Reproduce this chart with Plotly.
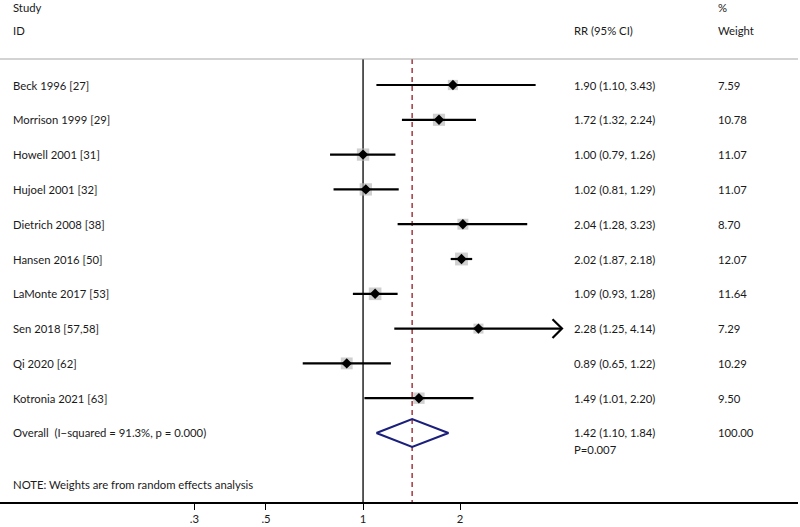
import plotly.graph_objects as go
import numpy as np

studies = ["Beck 1996 [27]", "Morrison 1999 [29]", "Howell 2001 [31]", "Hujoel 2001 [32]",
           "Dietrich 2008 [38]", "Hansen 2016 [50]", "LaMonte 2017 [53]", "Sen 2018 [57,58]",
           "Qi 2020 [62]", "Kotronia 2021 [63]"]
rr = [1.90, 1.72, 1.00, 1.02, 2.04, 2.02, 1.09, 2.28, 0.89, 1.49]
ci_lo = [1.10, 1.32, 0.79, 0.81, 1.28, 1.87, 0.93, 1.25, 0.65, 1.01]
ci_hi = [3.43, 2.24, 1.26, 1.29, 3.23, 2.18, 1.28, 4.14, 1.22, 2.20]
weights = [7.59, 10.78, 11.07, 11.07, 8.70, 12.07, 11.64, 7.29, 10.29, 9.50]

overall_rr = 1.42
overall_lo = 1.10
overall_hi = 1.84
overall_label = "Overall  (I\u2212squared = 91.3%, p = 0.000)"
overall_p = "P=0.007"
note = "NOTE: Weights are from random effects analysis"

tick_vals = [0.3, 0.5, 1, 2]
tick_text = [".3", ".5", "1", "2"]
x_max = 4.0  # CIs beyond this get an arrow

FONT = "Lato"
FS = 11.3
TXT = "#1a1a1a"

n = len(studies)
rows = list(range(n))
ov_row = n
top_row = -0.747      # header rule
bottom_row = 11.983

fig = go.Figure()

# null line and overall effect line
fig.add_trace(go.Scatter(x=[1, 1], y=[top_row, bottom_row], mode="lines",
                         line=dict(color="black", width=1.3), hoverinfo="skip"))
fig.add_trace(go.Scatter(x=[overall_rr, overall_rr], y=[top_row, bottom_row], mode="lines",
                         line=dict(color="#a3393e", width=1.5, dash="5px,4px"), hoverinfo="skip"))

# weight boxes
fig.add_trace(go.Scatter(x=rr, y=rows, mode="markers",
                         marker=dict(symbol="square", color="#bcbcbc",
                                     size=[3.7 * np.sqrt(w) for w in weights], line=dict(width=0)),
                         hoverinfo="skip"))

# confidence intervals
for i in rows:
    fig.add_trace(go.Scatter(x=[ci_lo[i], ci_hi[i]], y=[i, i], mode="lines",
                             line=dict(color="black", width=2.2), hoverinfo="skip"))
    if ci_hi[i] > x_max:
        tip = ci_hi[i]
        back = tip / 1.07
        fig.add_trace(go.Scatter(x=[back, tip, back], y=[i - 0.27, i, i + 0.27], mode="lines",
                                 line=dict(color="black", width=2.2), hoverinfo="skip"))

# point estimates
fig.add_trace(go.Scatter(x=rr, y=rows, mode="markers",
                         marker=dict(symbol="diamond", color="black", size=8, line=dict(width=0)),
                         hoverinfo="skip"))

# overall diamond
fig.add_trace(go.Scatter(x=[overall_lo, overall_rr, overall_hi, overall_rr, overall_lo],
                         y=[ov_row, ov_row - 0.4, ov_row, ov_row + 0.4, ov_row],
                         mode="lines", line=dict(color="#1b1f7c", width=2.2), hoverinfo="skip"))

annots = []

def txt(x, y, s):
    annots.append(dict(x=x, y=y, xref="paper", yref="y", text=s, showarrow=False,
                       xanchor="left", yanchor="middle",
                       font=dict(family=FONT, size=FS, color=TXT)))

X_STUDY, X_RR, X_W = 11 / 798, 572 / 798, 716 / 798
txt(X_STUDY, -2.24, "Study")
txt(X_STUDY, -1.58, "ID")
txt(X_RR, -1.58, "RR (95% CI)")
txt(X_W, -2.24, "%")
txt(X_W, -1.58, "Weight")

for i in rows:
    txt(X_STUDY, i, studies[i])
    txt(X_RR, i, f"{rr[i]:.2f} ({ci_lo[i]:.2f}, {ci_hi[i]:.2f})")
    txt(X_W, i, f"{weights[i]:.2f}")

txt(X_STUDY, ov_row, overall_label)
txt(X_RR, ov_row, f"{overall_rr:.2f} ({overall_lo:.2f}, {overall_hi:.2f})")
txt(X_RR, ov_row + 0.46, overall_p)
txt(X_W, ov_row, f"{sum(weights):.2f}")
txt(X_STUDY, 11.494, note)

fig.update_layout(
    width=800, height=527,
    margin=dict(l=0, r=2, t=0, b=25),
    paper_bgcolor="white", plot_bgcolor="white",
    showlegend=False,
    annotations=annots,
    shapes=[dict(type="line", xref="paper", yref="y", x0=0, x1=1, y0=top_row, y1=top_row,
                 line=dict(color="#a8a8a8", width=1.2))],
    xaxis=dict(type="log", range=[-1.126, 1.349], tickvals=tick_vals, ticktext=tick_text,
               ticks="outside", ticklen=6, tickwidth=1.3, tickcolor="black",
               showline=True, linecolor="black", linewidth=1.6, showgrid=False, zeroline=False,
               tickfont=dict(family=FONT, size=FS, color=TXT), fixedrange=True),
    yaxis=dict(range=[bottom_row, -2.4425], visible=False, showgrid=False, zeroline=False,
               fixedrange=True),
)

# page body has a default margin; drop it so the figure fills the window
fig.write_html("out.html", config={"displayModeBar": False},
               post_script="document.body.style.margin='0';")
